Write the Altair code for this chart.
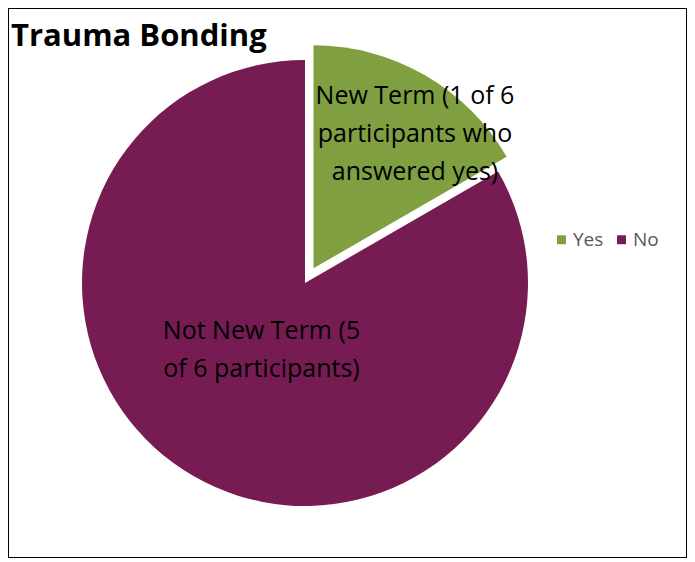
import altair as alt
import pandas as pd

categories = ["Yes", "No"]
counts = [1, 5]
labels = ["New Term (1 of 6\nparticipants who\nanswered yes)", "Not New Term (5\nof 6 participants)"]
colors = ["#7F9F40", "#761C52"]
chart_title = "Trauma Bonding"
total = sum(counts)

df = pd.DataFrame({"answer": categories, "count": counts, "label": labels, "order": [0, 1]})

FONT = "Open Sans"
CX, CY, R = 297, 275, 223
EX = 17  # explode distance for "Yes"
EXX, EXY = EX * 0.5, -EX * 0.866

base = alt.Chart(df).transform_stack(
    stack="count", groupby=[], as_=["start", "end"], sort=[alt.SortField("order")]
).transform_calculate(mid="(datum.start + datum.end) / 2")

theta_scale = alt.Scale(domain=[0, total])
color_enc = alt.Color(
    "answer:N",
    scale=alt.Scale(domain=categories, range=colors),
    sort=categories,
    legend=alt.Legend(
        title=None, orient="none", legendX=544, legendY=222, direction="horizontal",
        symbolType="square", symbolSize=80, symbolStrokeWidth=0,
        labelFont=FONT, labelFontSize=19, labelColor="#595959", columnPadding=8,
        symbolOffset=0, labelOffset=2,
    ),
)

no_arc = base.transform_filter(alt.datum.answer == "No").mark_arc(radius=R).encode(
    theta=alt.Theta("start:Q", scale=theta_scale), theta2="end:Q", color=color_enc,
    x=alt.value(CX), y=alt.value(CY),
)
yes_arc = base.transform_filter(alt.datum.answer == "Yes").mark_arc(radius=R).encode(
    theta=alt.Theta("start:Q", scale=theta_scale), theta2="end:Q", color=color_enc,
    x=alt.value(CX + EXX), y=alt.value(CY + EXY),
)

yes_text = base.transform_filter(alt.datum.answer == "Yes").mark_text(
    radius=165, font=FONT, fontSize=25, lineBreak="\n", lineHeight=38, color="black",
    dx=19, dy=-29,
).encode(
    theta=alt.Theta("mid:Q", scale=theta_scale), text="label:N",
    x=alt.value(CX + EXX), y=alt.value(CY + EXY),
)
no_text = base.transform_filter(alt.datum.answer == "No").mark_text(
    radius=79, font=FONT, fontSize=25, lineBreak="\n", lineHeight=38, color="black",
    dx=-4, dy=-20,
).encode(
    theta=alt.Theta("mid:Q", scale=theta_scale), text="label:N",
    x=alt.value(CX), y=alt.value(CY),
)

title_text = alt.Chart(pd.DataFrame({"t": [chart_title]})).mark_text(
    font=FONT, fontSize=31, fontWeight="bold", color="black", align="left",
    baseline="alphabetic",
).encode(text="t:N", x=alt.value(3), y=alt.value(38))

chart = alt.layer(no_arc, yes_arc, yes_text, no_text, title_text).properties(
    width=679, height=550, padding=0, autosize="none",
).configure_view(stroke="black", strokeWidth=2)

chart.save("out.html", embed_options={"renderer": "svg", "actions": False})
